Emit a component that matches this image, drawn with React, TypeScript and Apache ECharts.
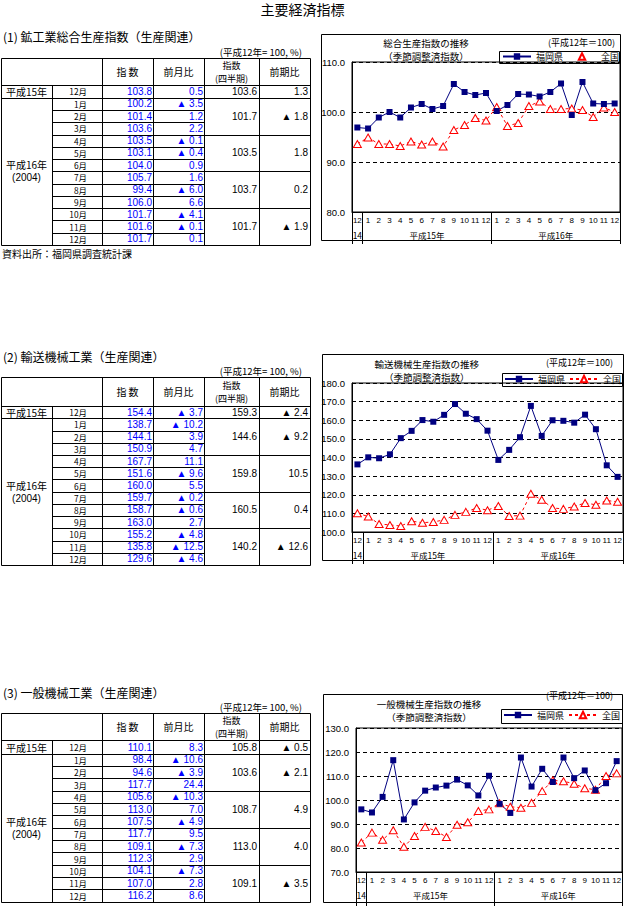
import React, { useEffect, useRef } from "react";
import * as echarts from "echarts";

const FONT = "'Noto Sans CJK JP', 'Noto Sans', sans-serif";
const NUM = "'Liberation Sans', 'DejaVu Sans', sans-serif";
const BLUE = "#0000ff";
const NAVY = "#000080";
const RED = "#ff0000";

// ---- axis labels ----
const axisMonths = ["12", "1", "2", "3", "4", "5", "6", "7", "8", "9", "10", "11", "12", "1", "2", "3", "4", "5", "6", "7", "8", "9", "10", "11", "12"];
const yearAxisLabels = ["14", "平成15年", "平成16年"];
const yearAxisSlots = [1, 14, 38]; // slots on a 51-point half-category axis
const yearAxisData = Array.from({ length: 51 }, (_, j) => {
  const k = yearAxisSlots.indexOf(j);
  return k >= 0 ? yearAxisLabels[k] : "";
});

// ---- table labels ----
const tableMonths = ["12月", "1月", "2月", "3月", "4月", "5月", "6月", "7月", "8月", "9月", "10月", "11月", "12月"];
const legendNames = ["福岡県", "全国"];

// ---- (1) 鉱工業総合生産指数 ----
const miningIndex = [103.8, 100.2, 101.4, 103.6, 103.5, 103.1, 104.0, 105.7, 99.4, 106.0, 101.7, 101.6, 101.7];
const miningMoM = [0.5, -3.5, 1.2, 2.2, -0.1, -0.4, 0.9, 1.6, -6.0, 6.6, -4.1, -0.1, 0.1];
const miningQuarter = [103.6, 101.7, 103.5, 103.7, 101.7];
const miningQoQ = [1.3, -1.8, 1.8, 0.2, -1.9];
const miningFukuokaEarly = [96.9, 96.7, 98.9, 100.0, 98.9, 100.9, 101.6, 100.6, 101.2, 105.6, 104.0, 103.4];
const miningNational = [93.6, 94.9, 93.6, 93.6, 93.2, 94.1, 93.5, 94.1, 93.1, 96.4, 97.4, 98.8, 98.3, 101.0, 97.2, 97.8, 101.2, 102.1, 100.6, 100.6, 100.7, 100.4, 99.0, 100.9, 100.0];

// ---- (2) 輸送機械工業 ----
const transIndex = [154.4, 138.7, 144.1, 150.9, 167.7, 151.6, 160.0, 159.7, 158.7, 163.0, 155.2, 135.8, 129.6];
const transMoM = [-3.7, -10.2, 3.9, 4.7, 11.1, -9.6, 5.5, -0.2, -0.6, 2.7, -4.8, -12.5, -4.6];
const transQuarter = [159.3, 144.6, 159.8, 160.5, 140.2];
const transQoQ = [-2.4, -9.2, 10.5, 0.4, -12.6];
const transFukuokaEarly = [136.3, 140.1, 139.6, 141.7, 150.4, 154.3, 160.1, 159.2, 162.9, 168.7, 163.5, 160.6];
const transNational = [110.1, 108.3, 104.3, 103.8, 103.2, 105.8, 105.0, 105.4, 106.5, 109.2, 110.8, 112.9, 111.7, 114.0, 108.6, 108.8, 120.5, 117.3, 112.9, 112.4, 113.7, 115.6, 114.6, 116.9, 116.2];

// ---- (3) 一般機械工業 ----
const genIndex = [110.1, 98.4, 94.6, 117.7, 105.6, 113.0, 107.5, 117.7, 109.1, 112.3, 104.1, 107.0, 116.2];
const genMoM = [8.3, -10.6, -3.9, 24.4, -10.3, 7.0, -4.9, 9.5, -7.3, 2.9, -7.3, 2.8, 8.6];
const genQuarter = [105.8, 103.6, 108.7, 113.0, 109.1];
const genQoQ = [-0.5, -2.1, 4.9, 4.0, -3.5];
const genFukuokaEarly = [96.1, 94.8, 101.3, 116.6, 91.9, 99.0, 103.9, 105.2, 106.0, 108.5, 106.1, 101.9];
const genNational = [82.3, 86.4, 83.4, 87.4, 80.5, 85.0, 88.8, 87.1, 84.6, 89.7, 90.7, 95.4, 96.1, 98.6, 97.2, 96.8, 98.8, 103.7, 108.2, 107.8, 106.8, 104.9, 104.3, 110.0, 111.1];

const sections = [
  {
    heading: "(1) 鉱工業総合生産指数（生産関連）", headingY: 36, noteY: 51.6,
    top: 57.7, hb: 85, rb: 97.7, bottom: 245,
    index: miningIndex, mom: miningMoM, q: miningQuarter, qoq: miningQoQ,
    chartTitle: "総合生産指数の推移", titleX: 426, titleY: 43, subY: 56, unitX: 615, unitY: 42.7,
    frame: [321, 34, 620, 240], grid: { left: 352, top: 62, width: 268, height: 150 }, tickLen: 32,
    yMin: 80, yMax: 110, fuk: [...miningFukuokaEarly, ...miningIndex], nat: miningNational,
    legendBox: [499, 51, 619, 63], legendLeft: 502, legendTop: 52, natLine: false,
  },
  {
    heading: "(2) 輸送機械工業（生産関連）", headingY: 356.7, noteY: 371.2,
    top: 377.3, hb: 405.7, rb: 418.3, bottom: 565,
    index: transIndex, mom: transMoM, q: transQuarter, qoq: transQoQ,
    chartTitle: "輸送機械生産指数の推移", titleX: 426.7, titleY: 364.3, subY: 377.3, unitX: 613, unitY: 362.3,
    frame: [322, 354, 623, 560], grid: { left: 352, top: 383, width: 271, height: 149 }, tickLen: 32,
    yMin: 100, yMax: 180, fuk: [...transFukuokaEarly, ...transIndex], nat: transNational,
    legendBox: [502, 373, 622, 386], legendLeft: 504, legendTop: 374.5, natLine: true,
  },
  {
    heading: "(3) 一般機械工業（生産関連）", headingY: 692.3, noteY: 707.2,
    top: 713.3, hb: 740.3, rb: 753.7, bottom: 901.7,
    index: genIndex, mom: genMoM, q: genQuarter, qoq: genQoQ,
    chartTitle: "一般機械生産指数の推移", titleX: 429, titleY: 703.8, subY: 716.8, unitX: 613, unitY: 695,
    frame: [323, 694, 622, 902], grid: { left: 356, top: 728, width: 266, height: 144 }, tickLen: 34,
    yMin: 70, yMax: 130, fuk: [...genFukuokaEarly, ...genIndex], nat: genNational,
    legendBox: [501, 709, 622, 723], legendLeft: 503, legendTop: 710.5, natLine: true,
  },
];

const fmt = (v: number) => v.toFixed(1);
const fmtSigned = (v: number) => (v < 0 ? "▲ " + Math.abs(v).toFixed(1) : v.toFixed(1));

function buildGraphics() {
  const els: any[] = [];
  const px = (v: number) => Math.round(v) + 0.5;
  const line = (x1: number, y1: number, x2: number, y2: number) =>
    els.push({ type: "line", silent: true, shape: { x1: px(x1), y1: px(y1), x2: px(x2), y2: px(y2) }, style: { stroke: "#000", lineWidth: 1 } });
  const text = (t: string, x: number, y: number, align = "center", fill = "#000", size = 10, family = FONT) =>
    els.push({ type: "text", silent: true, x, y, style: { text: t, fill, fontSize: size, fontFamily: family, align, verticalAlign: "middle", lineHeight: size } });
  const rect = (x1: number, y1: number, x2: number, y2: number) =>
    els.push({ type: "rect", silent: true, shape: { x: px(x1), y: px(y1), width: Math.round(x2 - x1), height: Math.round(y2 - y1) }, style: { stroke: "#000", fill: "none", lineWidth: 1 } });

  text("主要経済指標", 302.5, 9, "center", "#000", 14);

  const X = [1, 52, 102, 153, 204, 259, 310];
  sections.forEach((s, si) => {
    text(s.heading, 3, s.headingY, "left", "#000", 12);
    text("(平成12年= 100, %)", 302, s.noteY, "right", "#000", 9.5);
    const h = (s.bottom - s.rb) / 12;
    const rowY = (k: number) => (k === 0 ? (s.hb + s.rb) / 2 : s.rb + (k - 0.5) * h);
    // grid lines
    line(X[0], s.top, X[6], s.top);
    line(X[0], s.bottom, X[6], s.bottom);
    line(X[0], s.top, X[0], s.bottom);
    line(X[6], s.top, X[6], s.bottom);
    line(X[0], s.hb, X[6], s.hb);
    line(X[0], s.rb, X[6], s.rb);
    for (let k = 1; k <= 11; k++) {
      const y = s.rb + k * h;
      line(X[1], y, k % 3 === 0 ? X[6] : X[4], y);
    }
    line(X[1], s.hb, X[1], s.bottom);
    for (let i = 2; i <= 5; i++) line(X[i], s.top, X[i], s.bottom);
    // header
    const hc = (s.top + s.hb) / 2;
    text("指 数", 127.5, hc);
    text("前月比", 178.5, hc);
    text("指数", 231.5, hc - 6, "center", "#000", 9);
    text("(四半期)", 231.5, hc + 7, "center", "#000", 9);
    text("前期比", 284.5, hc);
    // year column
    text("平成15年", 26.5, rowY(0));
    const mid = (s.rb + s.bottom) / 2;
    text("平成16年", 26.5, mid - 6.5);
    text("(2004)", 26.5, mid + 6.5, "center", "#000", 10, NUM);
    // rows
    tableMonths.forEach((m, k) => {
      text(m, 87, rowY(k), "right", "#000", 8.4);
      text(fmt(s.index[k]), 152, rowY(k), "right", BLUE, 10, NUM);
      text(fmtSigned(s.mom[k]), 203, rowY(k), "right", BLUE, 10, NUM);
    });
    s.q.forEach((qv, qi) => {
      const y = qi === 0 ? rowY(0) : rowY(3 * qi - 1);
      text(fmt(qv), 257, y, "right", "#000", 10, NUM);
      text(fmtSigned(s.qoq[qi]), 308, y, "right", "#000", 10, NUM);
    });
    if (si === 0) text("資料出所：福岡県調査統計課", 2, 253.5, "left");

    // chart decorations
    rect(s.frame[0], s.frame[1], s.frame[2], s.frame[3]);
    rect(s.legendBox[0], s.legendBox[1], s.legendBox[2], s.legendBox[3]);
    text(s.chartTitle, s.titleX, s.titleY, "center", "#000", 9.5);
    text("（季節調整済指数）", s.titleX, s.subY, "center", "#000", 9.5);
    text("(平成12年＝100)", s.unitX, s.unitY, "right", "#000", 9);
  });
  return els;
}

export default function App() {
  const ref = useRef<HTMLDivElement>(null);
  useEffect(() => {
    if (!ref.current) return;
    const chart = echarts.init(ref.current, undefined, { renderer: "svg" });
    const option: any = {
      animation: false,
      backgroundColor: "#fff",
      textStyle: { fontFamily: FONT },
      grid: sections.map((s) => ({
        ...s.grid, show: true, borderColor: "#000", borderWidth: 1, backgroundColor: "transparent",
        containLabel: false, outerBoundsMode: "none",
      })),
      xAxis: sections.flatMap((s, i) => [
        {
          type: "category", gridIndex: i, data: axisMonths, boundaryGap: true, position: "bottom",
          axisLine: { show: true, lineStyle: { color: "#000", width: 1 } },
          axisTick: { show: true, interval: (idx: number) => idx === 0 || idx === 1 || idx === 13, length: s.tickLen, lineStyle: { color: "#000", width: 1 } },
          axisLabel: { interval: 0, margin: 4, fontSize: 8, lineHeight: 9, color: "#000", fontFamily: NUM, hideOverlap: false },
          splitLine: { show: false },
        },
        {
          type: "category", gridIndex: i, data: yearAxisData, boundaryGap: false, position: "bottom",
          axisLine: { show: false }, axisTick: { show: false },
          axisLabel: { interval: 0, margin: 18, fontSize: 8.5, lineHeight: 9, color: "#000", fontFamily: FONT, hideOverlap: false },
          splitLine: { show: false },
        },
      ]),
      yAxis: sections.map((s, i) => ({
        type: "value", gridIndex: i, min: s.yMin, max: s.yMax, interval: 10,
        axisLine: { show: true, lineStyle: { color: "#000", width: 1 } },
        axisTick: { show: false },
        axisLabel: { margin: 7, fontSize: 9.5, color: "#000", fontFamily: NUM, formatter: (v: number) => v.toFixed(1) },
        splitLine: { show: true, lineStyle: { color: "#000", width: 1, type: [4, 3] } },
      })),
      legend: sections.map((s) => ({
        show: true, left: s.legendLeft, top: s.legendTop, orient: "horizontal", padding: 0,
        itemGap: 4, itemWidth: 28, itemHeight: 8, selectedMode: false,
        textStyle: { fontSize: 9, color: "#000", fontFamily: FONT },
        data: [
          { name: legendNames[0] },
          s.natLine ? { name: legendNames[1] } : { name: legendNames[1], lineStyle: { opacity: 0 } },
        ],
      })),
      series: sections.flatMap((s, i) => [
        {
          type: "line", name: legendNames[1], xAxisIndex: 2 * i, yAxisIndex: i, data: s.nat,
          symbol: "triangle", symbolSize: [8, 7],
          itemStyle: { color: "#fff", borderColor: RED, borderWidth: 1 },
          lineStyle: { color: RED, width: 1, type: [3, 3] },
          emphasis: { disabled: true },
        },
        {
          type: "line", name: legendNames[0], xAxisIndex: 2 * i, yAxisIndex: i, data: s.fuk,
          symbol: "rect", symbolSize: 6,
          itemStyle: { color: NAVY },
          lineStyle: { color: NAVY, width: 1 },
          emphasis: { disabled: true },
        },
      ]),
      graphic: buildGraphics(),
    };
    chart.setOption(option);
    return () => chart.dispose();
  }, []);
  return (
    <div style={{ position: "absolute", left: 0, top: 0, width: 642, height: 914, background: "#fff" }}>
      <div ref={ref} style={{ width: 642, height: 914 }} />
    </div>
  );
}
